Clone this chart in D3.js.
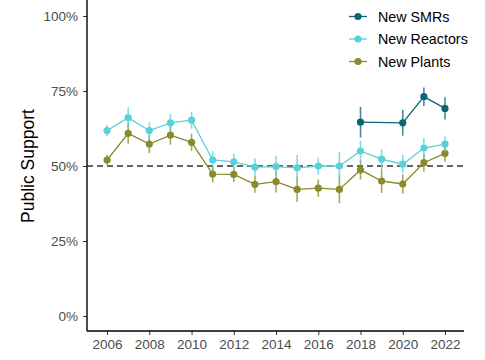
<!DOCTYPE html>
<html><head><meta charset="utf-8">
<script src="https://cdn.jsdelivr.net/npm/d3@7"></script>
<style>body{margin:0;background:#fff}svg{display:block;font-family:"Liberation Sans",Arial,sans-serif}</style>
</head><body><svg id="c" width="485" height="360"></svg>
<script>
const years = [2006,2007,2008,2009,2010,2011,2012,2013,2014,2015,2016,2017,2018,2019,2020,2021,2022];
const reactorsVal = [61.8,66.1,61.8,64.4,65.3,52.0,51.4,49.6,49.8,49.4,50.0,50.0,55.0,52.3,50.6,56.0,57.3];
const reactorsErr = [1.9,3.5,2.8,3.0,2.8,2.9,2.8,3.0,3.6,4.3,2.8,4.7,3.4,3.3,3.0,3.3,2.6];
const plantsVal = [52.0,60.9,57.3,60.3,57.9,47.3,47.2,43.9,44.8,42.2,42.6,42.2,48.7,45.0,44.0,51.1,54.2];
const plantsErr = [1.7,3.5,3.0,3.2,2.9,2.8,2.5,2.8,3.6,4.2,2.9,4.6,3.2,4.0,3.2,2.9,2.8];
const smrYears = [2018,2020,2021,2022];
const smrVal = [64.6,64.4,73.1,69.2];
const smrErr = [5.1,4.3,3.1,3.7];
const xTicks = [2006,2008,2010,2012,2014,2016,2018,2020,2022];
const yTicks = [0,25,50,75,100];
const seriesNames = ["New SMRs","New Reactors","New Plants"];
const colors = {"New SMRs":"#0d6377","New Reactors":"#5bd0da","New Plants":"#8a8a2a"};

const series = [
  {name:"New Plants", pts: years.map((y,i)=>({x:y,v:plantsVal[i],e:plantsErr[i]}))},
  {name:"New Reactors", pts: years.map((y,i)=>({x:y,v:reactorsVal[i],e:reactorsErr[i]}))},
  {name:"New SMRs", pts: smrYears.map((y,i)=>({x:y,v:smrVal[i],e:smrErr[i]}))}
];

const svg = d3.select("#c");
const L=87, R=464, T=8, B=331;
const x = d3.scaleLinear().domain([2005.05,2022.9]).range([L,R]);
const y = d3.scaleLinear().domain([0,100]).range([316,16]);

// y axis
const ya = svg.append("g").attr("transform",`translate(${L},0)`)
  .call(d3.axisLeft(y).tickValues(yTicks).tickFormat(d=>d+"%").tickSize(4).tickPadding(5));
ya.select(".domain").remove();
ya.append("line").attr("x1",0).attr("x2",0).attr("y1",T-8).attr("y2",B).attr("stroke","#000").attr("stroke-width",1.4);
ya.selectAll(".tick line").attr("stroke","#333");
ya.selectAll(".tick text").attr("fill","#4d4d4d").attr("font-size",13.5).attr("font-family","Liberation Sans, Arial, sans-serif");

// x axis
const xa = svg.append("g").attr("transform",`translate(0,${B})`)
  .call(d3.axisBottom(x).tickValues(xTicks).tickFormat(d3.format("d")).tickSize(4).tickPadding(4));
xa.select(".domain").remove();
xa.append("line").attr("x1",L).attr("x2",R).attr("y1",0).attr("y2",0).attr("stroke","#000").attr("stroke-width",1.4);
xa.selectAll(".tick line").attr("stroke","#333");
xa.selectAll(".tick text").attr("fill","#4d4d4d").attr("font-size",13.5).attr("font-family","Liberation Sans, Arial, sans-serif");

// dashed line
svg.append("line").attr("x1",L).attr("x2",R).attr("y1",y(50)).attr("y2",y(50))
  .attr("stroke","#333").attr("stroke-width",1.3).attr("stroke-dasharray","6,4");

// y title
svg.append("text").attr("transform",`translate(34,${y(50)}) rotate(-90)`).attr("text-anchor","middle")
  .attr("font-size",17.5).attr("fill","#000").text("Public Support");

const line = d3.line().x(d=>x(d.x)).y(d=>y(d.v));
series.forEach(s=>{
  const g = svg.append("g");
  const c = colors[s.name];
  g.selectAll("line.err").data(s.pts).join("line").attr("class","err")
    .attr("x1",d=>x(d.x)).attr("x2",d=>x(d.x)).attr("y1",d=>y(d.v-d.e)).attr("y2",d=>y(d.v+d.e))
    .attr("stroke",c).attr("stroke-width",1.6).attr("opacity",0.75);
  g.append("path").datum(s.pts).attr("d",line).attr("fill","none").attr("stroke",c).attr("stroke-width",1.3);
  g.selectAll("circle").data(s.pts).join("circle").attr("cx",d=>x(d.x)).attr("cy",d=>y(d.v)).attr("r",3.6).attr("fill",c);
});

// legend
const lg = svg.append("g");
seriesNames.forEach((n,i)=>{
  const yy = 16.5 + i*22.5;
  lg.append("line").attr("x1",349).attr("x2",367).attr("y1",yy).attr("y2",yy).attr("stroke",colors[n]).attr("stroke-width",1.3);
  lg.append("circle").attr("cx",358).attr("cy",yy).attr("r",3.6).attr("fill",colors[n]);
  lg.append("text").attr("x",378).attr("y",yy).attr("dy","0.35em").attr("font-size",14.3).attr("fill","#000").text(n);
});
</script></body></html>
